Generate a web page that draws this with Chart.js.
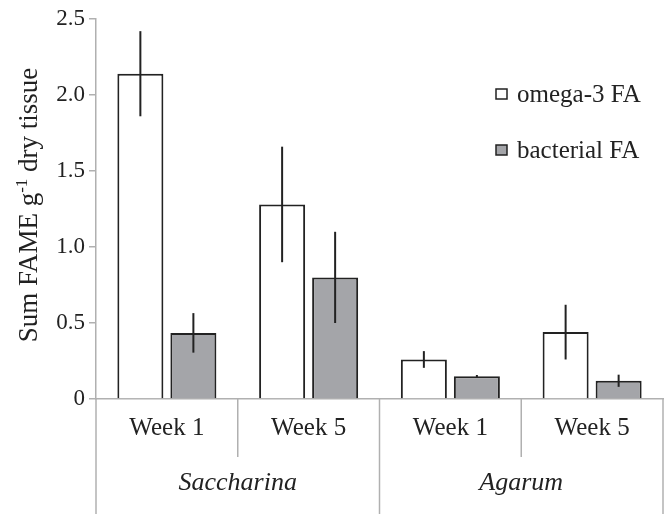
<!DOCTYPE html>
<html>
<head>
<meta charset="utf-8">
<script src="https://cdn.jsdelivr.net/npm/chart.js@4"></script>
<style>
  html, body { margin: 0; padding: 0; background: #fff; }
  #wrap { width: 671px; height: 514px; }
</style>
</head>
<body>
<div id="wrap"><canvas id="chart" width="671" height="514"></canvas></div>
<script>
// categories
const weeks = ['Week 1', 'Week 5', 'Week 1', 'Week 5'];
const sites = ['Saccharina', 'Agarum'];
const weeksPerSite = 2;

// series (sum FAME, g-1 dry tissue) with error bars
const omega3 = [2.14, 1.28, 0.26, 0.44];
const omega3Err = [0.28, 0.38, 0.055, 0.18];
const bacterial = [0.435, 0.80, 0.15, 0.12];
const bacterialErr = [0.13, 0.30, 0.008, 0.04];

const yTicks = [0, 0.5, 1.0, 1.5, 2.0, 2.5];

const SERIF = '"Liberation Serif", "Times New Roman", serif';
const INK = '#222';
const RULE = '#b0b0b0';

// error bars, drawn over each bar from the y scale
const errorBars = {
  id: 'errorBars',
  afterDatasetsDraw(chart) {
    const { ctx } = chart;
    const y = chart.scales.y;
    ctx.save();
    ctx.strokeStyle = INK;
    ctx.lineWidth = 2;
    chart.data.datasets.forEach((ds, di) => {
      chart.getDatasetMeta(di).data.forEach((bar, i) => {
        const v = ds.data[i], e = ds.errors[i];
        ctx.beginPath();
        ctx.moveTo(bar.x, y.getPixelForValue(v + e));
        ctx.lineTo(bar.x, y.getPixelForValue(Math.max(0, v - e)));
        ctx.stroke();
      });
    });
    ctx.restore();
  }
};

// table lines under the x axis
const tableLines = {
  id: 'tableLines',
  afterDraw(chart) {
    const { ctx, chartArea } = chart;
    const x = chart.scales.x;
    const bottom = chart.height;
    ctx.save();
    ctx.strokeStyle = RULE;
    ctx.lineWidth = 1.5;
    const line = (px, y2) => {
      ctx.beginPath();
      ctx.moveTo(px, chartArea.bottom);
      ctx.lineTo(px, y2);
      ctx.stroke();
    };
    line(chartArea.left, bottom);
    line(chartArea.right, bottom);
    for (let i = 0; i < weeks.length - 1; i++) {
      const px = (x.getPixelForValue(i) + x.getPixelForValue(i + 1)) / 2;
      const siteEdge = (i + 1) % weeksPerSite === 0;
      line(px, siteEdge ? bottom : chartArea.bottom + 58);
    }
    ctx.restore();
  }
};

// legend inside the plot, top right
const boxLegend = {
  id: 'boxLegend',
  afterDraw(chart) {
    const { ctx, chartArea } = chart;
    const x0 = chartArea.right - 167;
    ctx.save();
    ctx.font = '25px ' + SERIF;
    ctx.textBaseline = 'middle';
    chart.data.datasets.forEach((ds, i) => {
      const yc = chartArea.top + 75 + i * 56;
      ctx.fillStyle = ds.backgroundColor;
      ctx.fillRect(x0, yc - 5, 11, 10);
      ctx.strokeStyle = INK;
      ctx.lineWidth = 1.5;
      ctx.strokeRect(x0, yc - 5, 11, 10);
      ctx.fillStyle = INK;
      ctx.fillText(ds.label, x0 + 21, yc + 1);
    });
    ctx.restore();
  }
};

// rotated y title with superscript
const yTitle = {
  id: 'yTitle',
  afterDraw(chart) {
    const { ctx } = chart;
    const parts = [
      { t: 'Sum FAME g', sup: false },
      { t: '-1', sup: true },
      { t: ' dry tissue', sup: false }
    ];
    const big = '27px ' + SERIF, small = '17px ' + SERIF;
    ctx.save();
    let total = 0;
    parts.forEach(p => { ctx.font = p.sup ? small : big; p.w = ctx.measureText(p.t).width; total += p.w; });
    ctx.translate(37, 205);
    ctx.rotate(-Math.PI / 2);
    ctx.fillStyle = INK;
    ctx.textBaseline = 'alphabetic';
    let cx = -total / 2;
    parts.forEach(p => {
      ctx.font = p.sup ? small : big;
      ctx.fillText(p.t, cx, p.sup ? -10 : 0);
      cx += p.w;
    });
    ctx.restore();
  }
};

new Chart(document.getElementById('chart'), {
  type: 'bar',
  data: {
    labels: weeks,
    datasets: [
      { label: 'omega-3 FA', data: omega3, errors: omega3Err, backgroundColor: '#ffffff', borderColor: INK, borderWidth: 2 },
      { label: 'bacterial FA', data: bacterial, errors: bacterialErr, backgroundColor: '#a4a5a9', borderColor: INK, borderWidth: 2 }
    ]
  },
  options: {
    responsive: false,
    animation: false,
    categoryPercentage: 0.748,
    barPercentage: 0.868,
    layout: { padding: { top: 19, right: 8, left: 0, bottom: 0 } },
    plugins: { legend: { display: false }, tooltip: { enabled: false } },
    scales: {
      y: {
        min: 0, max: 2.5,
        afterBuildTicks: s => { s.ticks = yTicks.map(v => ({ value: v })); },
        afterFit: s => { s.width = 96; },
        ticks: {
          callback: v => v === 0 ? '0' : v.toFixed(1),
          font: { family: SERIF, size: 23 }, color: INK, padding: 4
        },
        grid: { drawOnChartArea: false, tickLength: 7, color: RULE, lineWidth: 1.5 },
        border: { color: RULE, width: 1.5 }
      },
      x: {
        weight: 0,
        afterFit: s => { s.height = 44; },
        ticks: { font: { family: SERIF, size: 25 }, color: INK, padding: 14 },
        grid: { display: false, drawTicks: false },
        border: { color: RULE, width: 1.5 }
      },
      x2: {
        type: 'category',
        labels: sites,
        position: 'bottom',
        offset: true,
        weight: 1,
        afterFit: s => { s.height = 71; },
        ticks: { font: { family: SERIF, size: 26, style: 'italic' }, color: INK, padding: 25 },
        grid: { display: false, drawTicks: false },
        border: { display: false }
      }
    }
  },
  plugins: [errorBars, tableLines, boxLegend, yTitle]
});
</script>
</body>
</html>
